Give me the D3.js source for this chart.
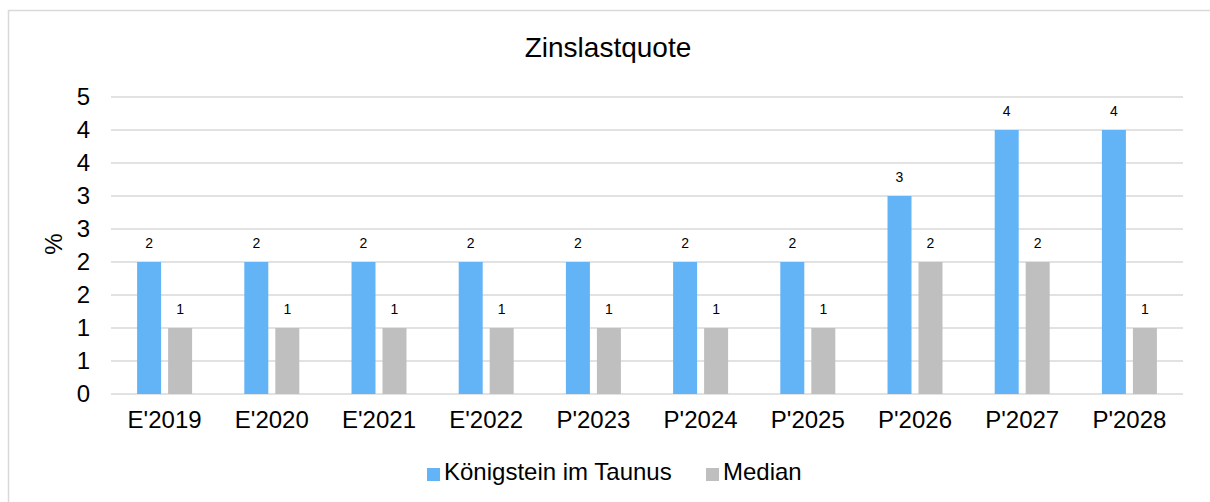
<!DOCTYPE html>
<html>
<head>
<meta charset="utf-8">
<script src="https://cdn.jsdelivr.net/npm/d3@7"></script>
<style>
  body { margin: 0; background: #fff; }
  svg text { font-family: "Liberation Sans", Arial, sans-serif; fill: #000; }
</style>
</head>
<body>
<svg id="chart" width="1210" height="502"></svg>
<script>
// chart data
const categories = ["E'2019", "E'2020", "E'2021", "E'2022", "P'2023", "P'2024", "P'2025", "P'2026", "P'2027", "P'2028"]
const seriesNames = ["Königstein im Taunus", "Median"]
const koenigstein = [2, 2, 2, 2, 2, 2, 2, 3, 4, 4]
const median = [1, 1, 1, 1, 1, 1, 1, 2, 2, 1]
const yTicks = [0, 0.5, 1, 1.5, 2, 2.5, 3, 3.5, 4, 4.5]
const colors = ["#63b4f6", "#bfbfbf"]

const svg = d3.select('#chart')

// outer frame
svg.append('rect')
    .attr('x', 8.5).attr('y', 10.5)
    .attr('width', 1260).attr('height', 560)
    .attr('fill', 'none')
    .attr('stroke', '#d9d9d9')
    .attr('stroke-width', 1.5)

let plotLeft = 111, plotRight = 1183, plotTop = 97, plotBottom = 394

let x0 = d3.scaleBand().domain(categories).range([plotLeft, plotRight])
    .paddingInner(0.487).paddingOuter(0.2435)
let x1 = d3.scaleBand().domain(seriesNames).range([0, x0.bandwidth()])
    .paddingInner(7 / 31)
let y = d3.scaleLinear().domain([0, 4.5]).range([plotBottom, plotTop])

// gridlines
svg.append('g')
    .selectAll('line')
    .data(yTicks)
    .enter().append('line')
    .attr('x1', plotLeft).attr('x2', plotRight)
    .attr('y1', d => y(d)).attr('y2', d => y(d))
    .attr('stroke', '#d9d9d9')
    .attr('stroke-width', 1.4)

// y axis labels
let yAxis = svg.append('g')
    .attr('transform', 'translate(' + plotLeft + ',0)')
    .call(d3.axisLeft(y).tickValues(yTicks).tickFormat(d => Math.round(d)).tickSize(0).tickPadding(21))
yAxis.select('.domain').remove()
yAxis.selectAll('text').style('font-size', '24px')

// x axis labels
let xAxis = svg.append('g')
    .attr('transform', 'translate(0,' + plotBottom + ')')
    .call(d3.axisBottom(x0).tickSize(0).tickPadding(17))
xAxis.select('.domain').remove()
xAxis.selectAll('text').style('font-size', '24px')

// bars
let rows = categories.map((c, i) => ({ cat: c, values: [koenigstein[i], median[i]] }))

let groups = svg.append('g')
    .selectAll('g')
    .data(rows)
    .enter().append('g')
    .attr('transform', d => 'translate(' + x0(d.cat) + ',0)')

groups.selectAll('rect')
    .data(d => d.values.map((v, k) => ({ name: seriesNames[k], k: k, v: v })))
    .enter().append('rect')
    .attr('x', d => x1(d.name))
    .attr('y', d => y(d.v))
    .attr('width', x1.bandwidth())
    .attr('height', d => y(0) - y(d.v))
    .attr('fill', d => colors[d.k])

groups.selectAll('text')
    .data(d => d.values.map((v, k) => ({ name: seriesNames[k], v: v })))
    .enter().append('text')
    .attr('x', d => x1(d.name) + x1.bandwidth() / 2)
    .attr('y', d => y(d.v) - 14)
    .attr('text-anchor', 'middle')
    .style('font-size', '14px')
    .text(d => d.v)

// title
svg.append('text')
    .attr('x', 608).attr('y', 57)
    .attr('text-anchor', 'middle')
    .style('font-size', '28px')
    .text('Zinslastquote')

// y axis title
svg.append('text')
    .attr('transform', 'translate(62,244) rotate(-90)')
    .attr('text-anchor', 'middle')
    .style('font-size', '24px')
    .text('%')

// legend
let legendX = [427, 706]
let legend = svg.append('g')
    .selectAll('g')
    .data(seriesNames)
    .enter().append('g')
    .attr('transform', (d, i) => 'translate(' + legendX[i] + ',468)')
legend.append('rect')
    .attr('width', 13).attr('height', 13)
    .attr('fill', (d, i) => colors[i])
legend.append('text')
    .attr('x', 17).attr('y', 12)
    .style('font-size', '24px')
    .text(d => d)
</script>
</body>
</html>
